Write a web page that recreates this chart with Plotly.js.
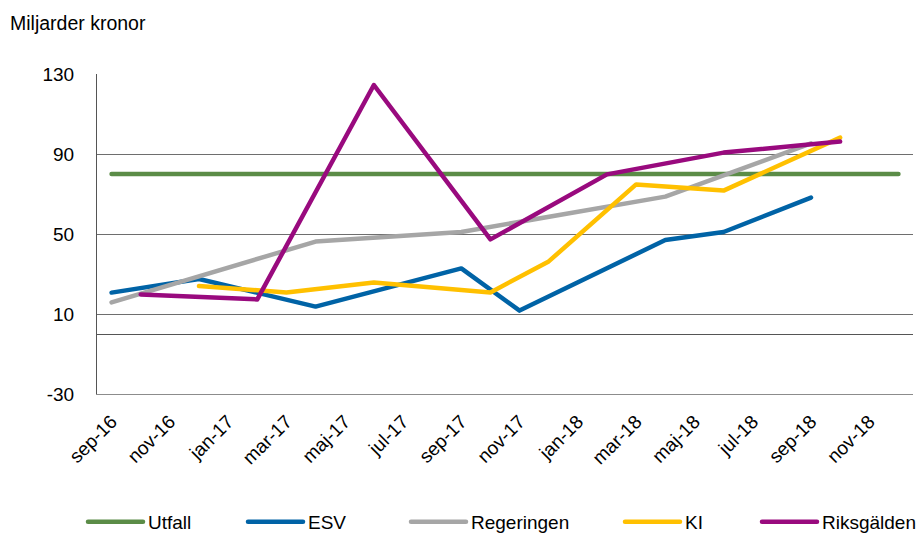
<!DOCTYPE html>
<html>
<head>
<meta charset="utf-8">
<script src="https://cdn.plot.ly/plotly-3.0.1.min.js"></script>
<style>
html,body{margin:0;padding:0;background:#fff;}
#chart{width:920px;height:534px;}
.scatterlayer path.js-line, .legendlines path{stroke-linecap:round !important;stroke-linejoin:round !important;}
</style>
</head>
<body>
<div id="chart"></div>
<script>
// Months (categories)
const months = ["sep-16","okt-16","nov-16","dec-16","jan-17","feb-17","mar-17","apr-17","maj-17","jun-17","jul-17","aug-17",
                "sep-17","okt-17","nov-17","dec-17","jan-18","feb-18","mar-18","apr-18","maj-18","jun-18","jul-18","aug-18",
                "sep-18","okt-18","nov-18","dec-18"];
// Tick labels shown (every second month)
const tickLabels = ["sep-16","nov-16","jan-17","mar-17","maj-17","jul-17","sep-17","nov-17","jan-18","mar-18","maj-18","jul-18","sep-18","nov-18"];

// Series values (null = no forecast that month)
const utfall = [80,80,80,80,80,80,80,80,80,80,80,80,80,80,80,80,80,80,80,80,80,80,80,80,80,80,80,80];
const esv = [20.7,null,null,27.5,null,null,null,13.7,null,null,null,null,32.8,null,11.7,null,null,null,null,47,null,51,null,null,68.2,null,null,null];
const regeringen = [15.8,null,null,null,null,null,null,46.2,null,null,null,null,51,null,null,null,null,null,null,68.7,null,null,null,null,95.3,null,null,null];
const ki = [null,null,null,24,null,null,20.8,null,null,25.7,null,null,null,20.8,null,36.3,null,null,74.8,null,null,71.7,null,null,null,98.2,null,null];
const riksgalden = [null,19.8,null,null,null,17.3,null,null,null,124.5,null,null,null,47.3,null,null,null,79.8,null,null,null,90.7,null,null,null,96.2,null,null];

const seriesNames = ["Utfall","ESV","Regeringen","KI","Riksgälden"];
const seriesData = [utfall, esv, regeringen, ki, riksgalden];
const colors = ["#5b8c47","#0063a6","#a6a6a6","#ffc000","#990a7e"];
const legendIds = ["legend","legend2","legend3","legend4","legend5"];
const legendXpx = [83, 243, 406, 620, 757];

const traces = seriesData.map((vals, i) => ({
  type: "scatter",
  mode: "lines",
  x: months,
  y: vals,
  name: seriesNames[i],
  connectgaps: true,
  line: {color: colors[i], width: 4.5},
  legend: legendIds[i],
  hoverinfo: "skip"
}));

const font = {family: "Liberation Sans, Arial, sans-serif", color: "#000"};

const layout = {
  width: 920,
  height: 534,
  paper_bgcolor: "#fff",
  plot_bgcolor: "#fff",
  margin: {l: 97, r: 7, t: 74, b: 140, autoexpand: false},
  font: Object.assign({size: 19}, font),
  showlegend: true,
  title: {
    text: "Miljarder kronor",
    font: Object.assign({size: 19.5}, font),
    xref: "container", yref: "container",
    x: 10/920, xanchor: "left",
    y: 1 - 23/534, yanchor: "middle"
  },
  xaxis: {
    type: "category",
    categoryorder: "array",
    categoryarray: months,
    range: [-0.5, months.length - 0.5],
    tickmode: "array",
    tickvals: tickLabels,
    ticktext: tickLabels,
    tickangle: -45,
    tickfont: Object.assign({size: 19}, font),
    ticklabelstandoff: 8,
    showgrid: false,
    showline: true,
    linecolor: "#8c8c8c",
    linewidth: 1,
    ticks: "",
    zeroline: false,
    automargin: false,
    fixedrange: true
  },
  yaxis: {
    range: [-30, 130],
    tickmode: "array",
    tickvals: [-30, 10, 50, 90, 130],
    ticktext: ["-30", "10", "50", "90", "130"],
    tickfont: Object.assign({size: 19}, font),
    showgrid: true,
    gridcolor: "#6e6e6e",
    gridwidth: 1,
    zeroline: true,
    zerolinecolor: "#555",
    zerolinewidth: 1,
    showline: true,
    linecolor: "#555",
    linewidth: 1,
    ticks: "",
    ticklabelstandoff: 18,
    automargin: false,
    fixedrange: true
  }
};
legendIds.forEach((id, i) => {
  layout[id] = {
    xref: "container", yref: "container",
    x: legendXpx[i] / 920, xanchor: "left",
    y: 1 - 522/534, yanchor: "middle",
    orientation: "h",
    bgcolor: "rgba(0,0,0,0)",
    font: Object.assign({size: 19}, font),
    itemwidth: 55
  };
});

Plotly.newPlot("chart", traces, layout, {displayModeBar: false, staticPlot: true});
</script>
</body>
</html>
